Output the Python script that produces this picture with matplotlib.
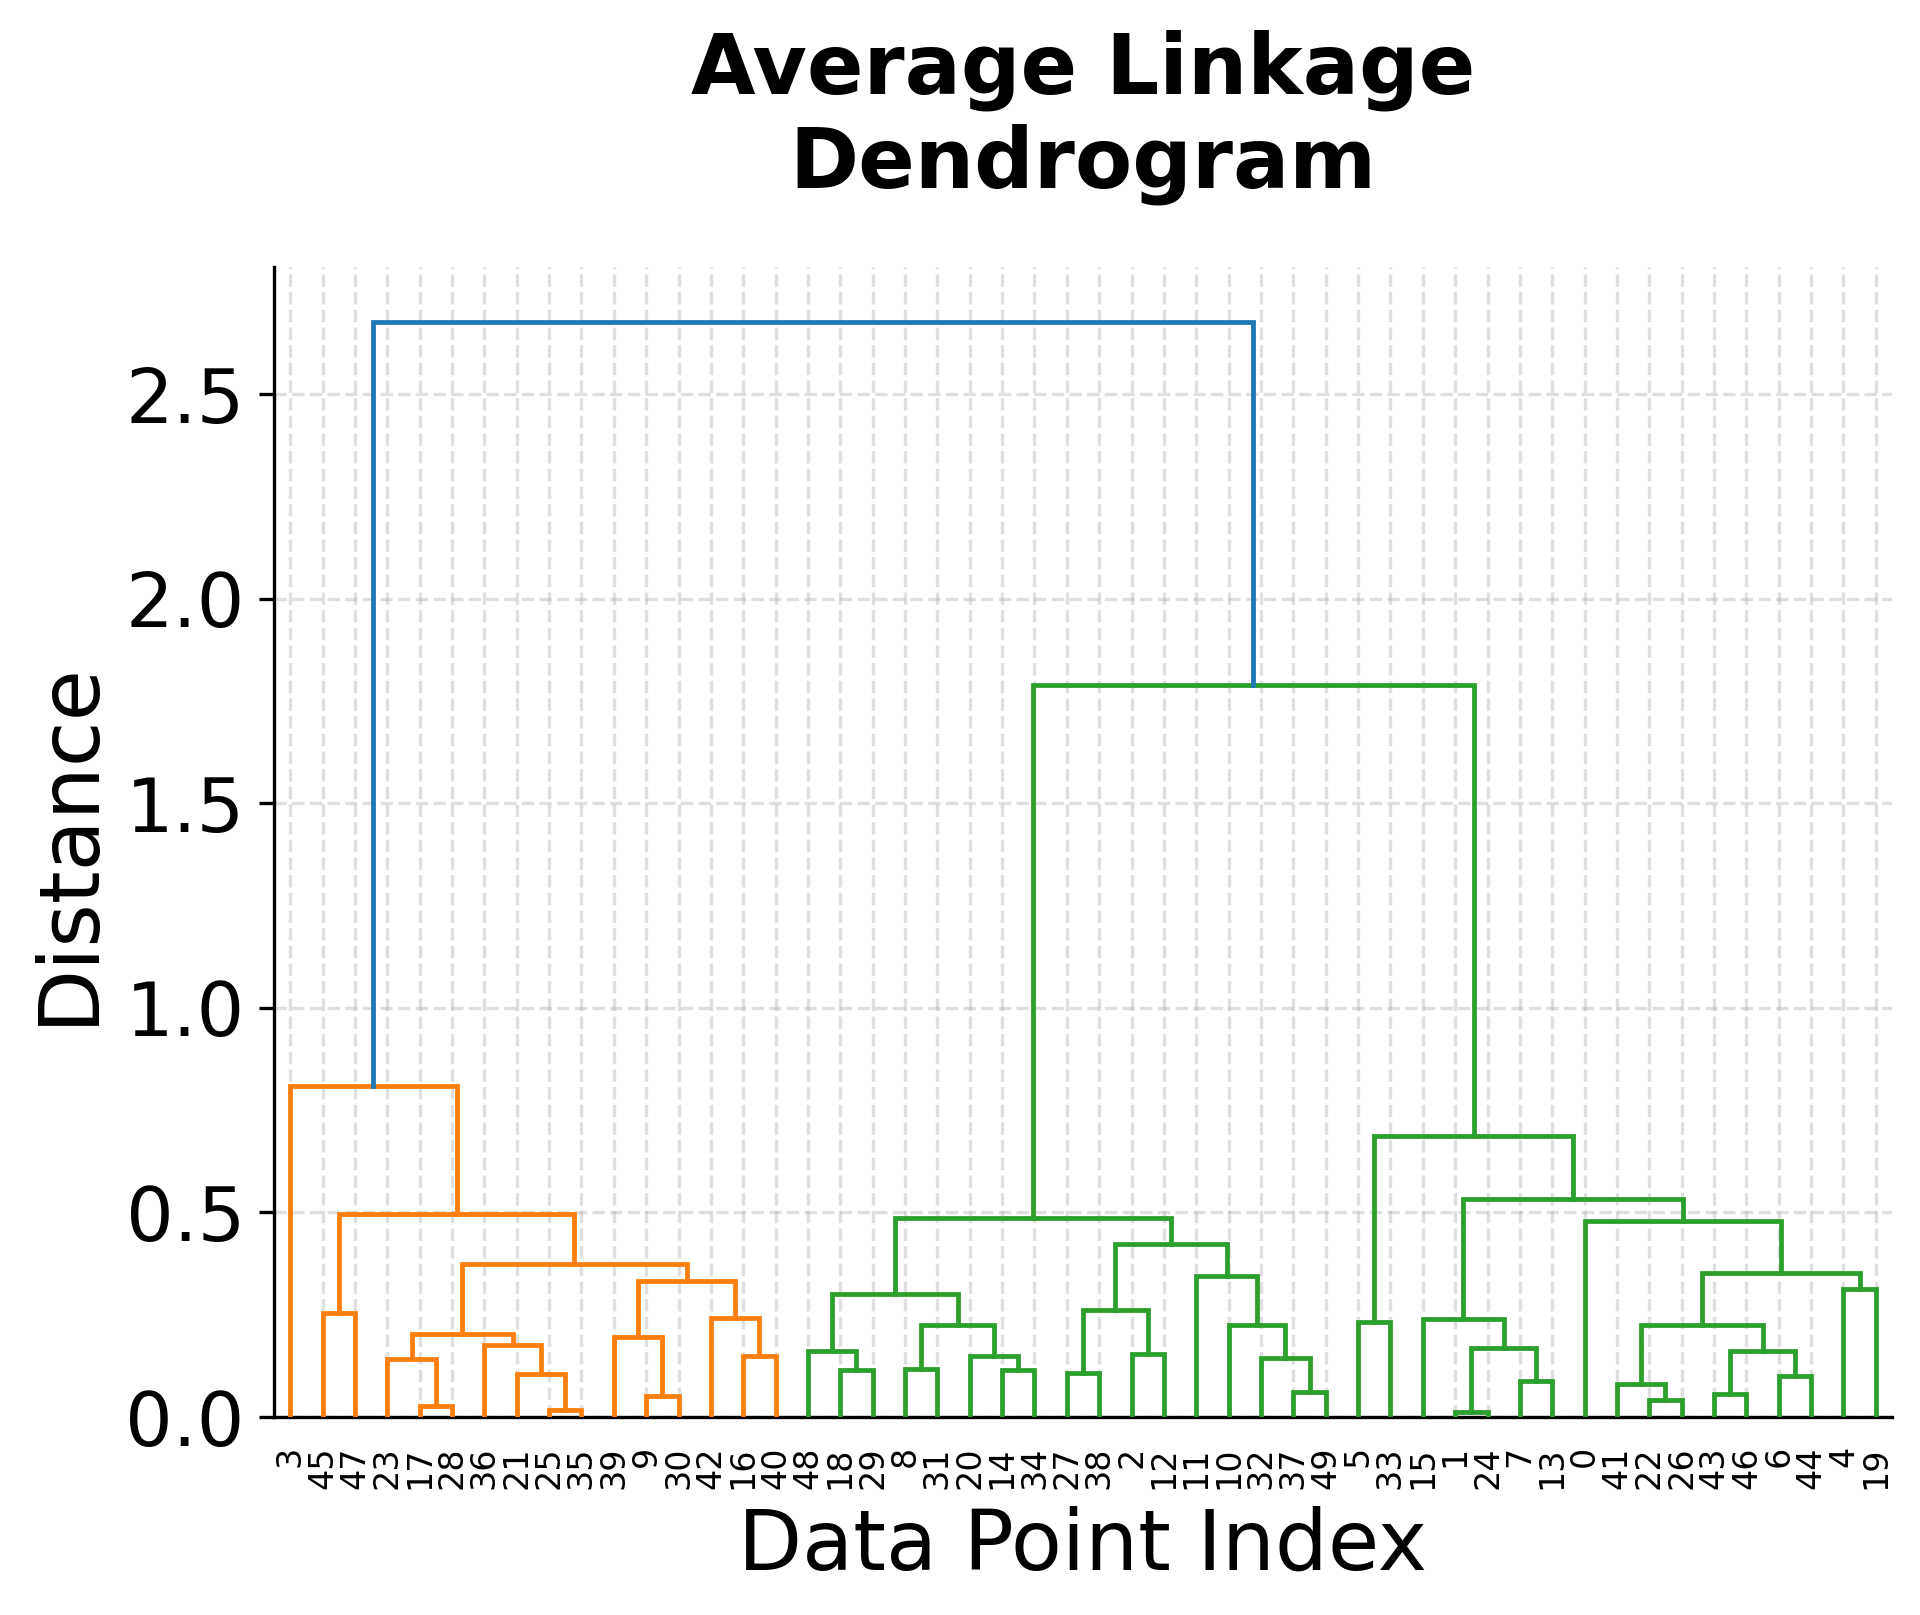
import matplotlib
matplotlib.use("Agg")
import matplotlib.pyplot as plt

# Linkage rows: (left child, right child, merge distance); ids >= 50 refer to earlier rows (50 + row index)
n_points = 50
link_left = [17, 23, 25, 21, 36, 51, 9, 39, 16, 42, 57, 55, 45, 62, 3,
             18, 48, 8, 14, 20, 67, 66, 27, 2, 72, 37, 32, 10, 11, 74, 71,
             5, 1, 7, 82, 15, 22, 41, 43, 6, 88, 87, 4, 91, 0, 85, 81, 80, 64]
link_right = [28, 50, 35, 52, 53, 54, 30, 56, 40, 58, 59, 60, 47, 61, 63,
              29, 65, 31, 34, 68, 69, 70, 38, 12, 73, 49, 75, 76, 77, 78, 79,
              33, 24, 13, 83, 84, 26, 86, 46, 44, 89, 90, 19, 92, 93, 94, 95, 96, 97]
link_height = [0.027, 0.141, 0.018, 0.105, 0.177, 0.204, 0.051, 0.195, 0.150, 0.243,
               0.333, 0.375, 0.255, 0.495, 0.810,
               0.114, 0.162, 0.117, 0.114, 0.150, 0.225, 0.300, 0.108, 0.153, 0.261,
               0.060, 0.144, 0.225, 0.345, 0.423, 0.486,
               0.231, 0.012, 0.087, 0.168, 0.240, 0.042, 0.081, 0.057, 0.099, 0.162,
               0.225, 0.312, 0.351, 0.480, 0.534, 0.687, 1.789, 2.677]

cluster_colors = {64: "#ff7f0e", 97: "#2ca02c"}
root_color = "#1f77b4"

fig = plt.figure(figsize=(6.4, 1615 / 300), dpi=300)
ax = fig.add_axes([274 / 1920, 1 - 1417 / 1615, (1892 - 274) / 1920, (1417 - 267) / 1615])

leaf_order = []
segments = []


def layout(node, color):
    """Return (x, height) of node; append U-links to segments."""
    if node < n_points:
        x = 5 + 10 * len(leaf_order)
        leaf_order.append(node)
        return x, 0.0
    r = node - n_points
    c = cluster_colors.get(node, color)
    xl, hl = layout(link_left[r], c)
    xr, hr = layout(link_right[r], c)
    h = link_height[r]
    segments.append(([xl, xl, xr, xr], [hl, h, h, hr], c))
    return (xl + xr) / 2.0, h


root = n_points + len(link_height) - 1
layout(root, root_color)

for xs, ys, c in segments:
    ax.plot(xs, ys, color=c, linewidth=1.15, solid_joinstyle="miter", zorder=3)

ax.set_xlim(0, 10 * n_points)
ax.set_ylim(0, max(link_height) * 1.05)
ax.set_xticks([5 + 10 * i for i in range(n_points)])
ax.set_xticklabels([str(v) for v in leaf_order], rotation=90, fontsize=8)
for t in ax.get_xticklines():
    t.set_visible(False)
ax.set_yticks([0.0, 0.5, 1.0, 1.5, 2.0, 2.5])
ax.set_yticklabels(["0.0", "0.5", "1.0", "1.5", "2.0", "2.5"])
ax.tick_params(axis="y", labelsize=18)

ax.grid(True, linestyle="--", color="#b0b0b0", alpha=0.4, linewidth=0.8, zorder=0)
ax.set_axisbelow(True)
for s in ("top", "right"):
    ax.spines[s].set_visible(False)

ax.set_title("Average Linkage\nDendrogram", fontsize=20, fontweight="bold", pad=19)
ax.set_xlabel("Data Point Index", fontsize=20)
ax.set_ylabel("Distance", fontsize=20)

fig.savefig("out.png", dpi=300)
